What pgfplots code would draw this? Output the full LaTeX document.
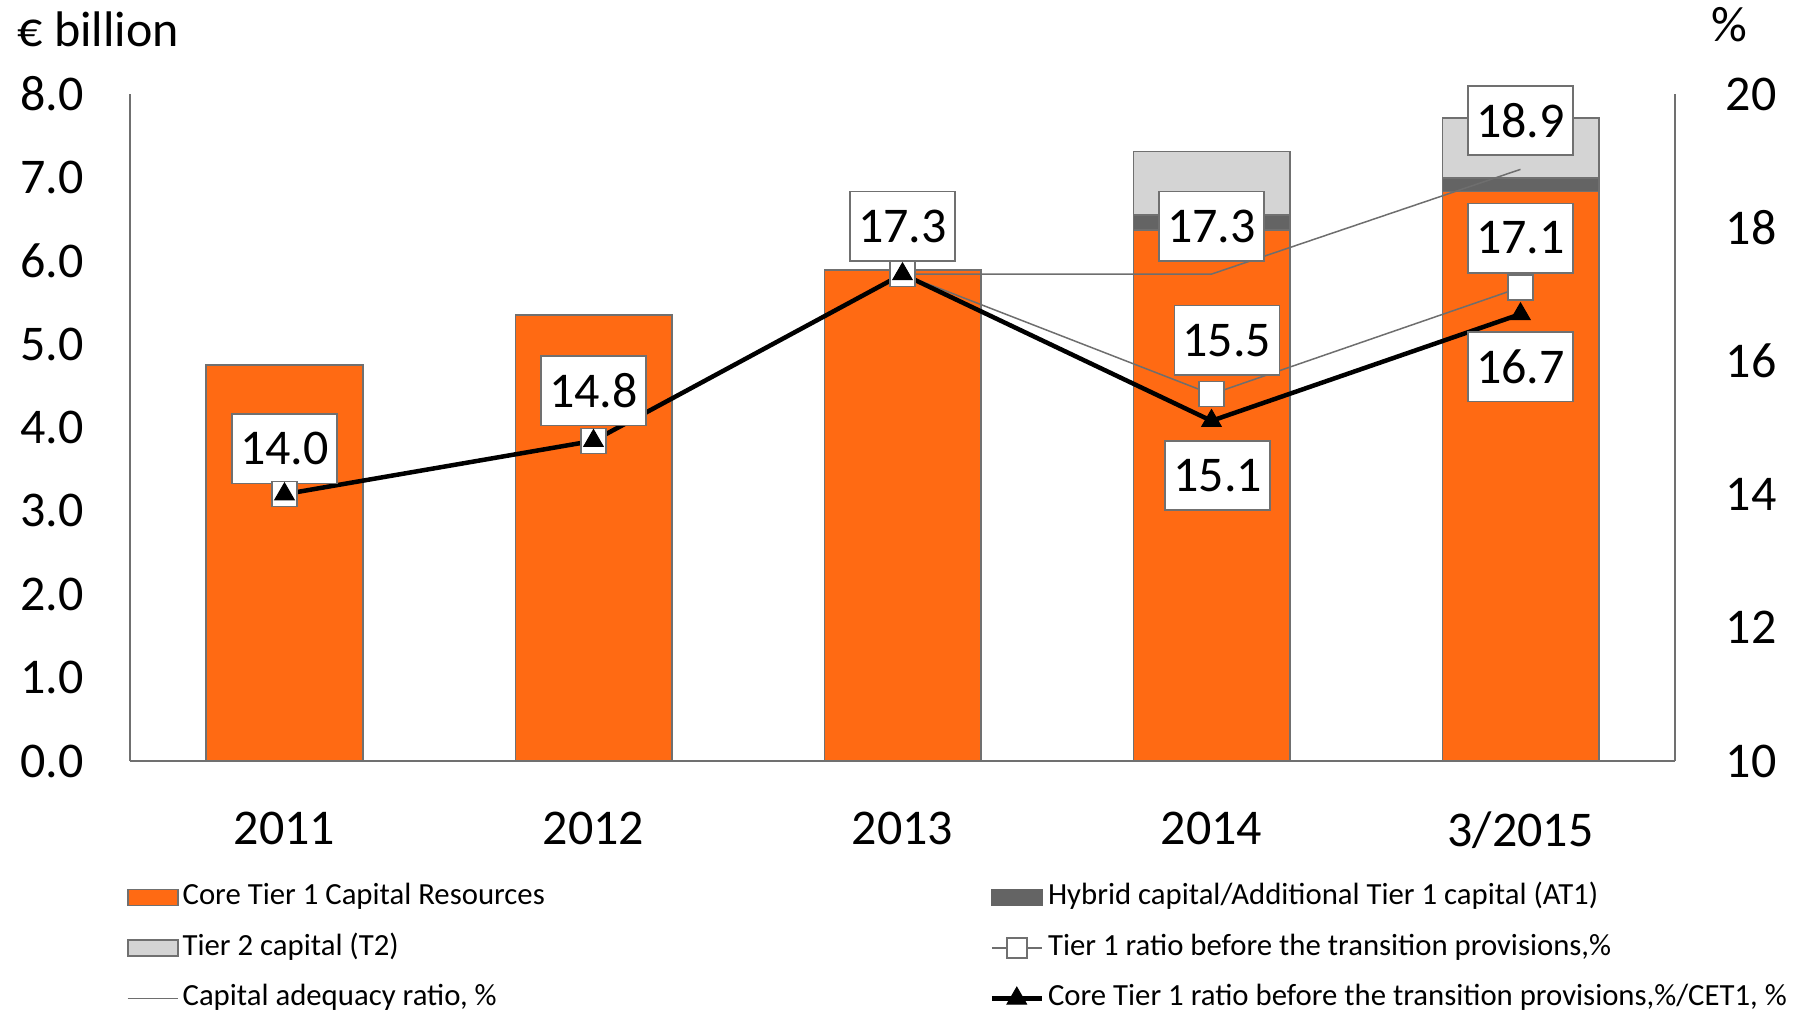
\documentclass[border=0pt]{standalone}
\usepackage{pgfplots}
\pgfplotsset{compat=1.18}
\usepackage{fontspec}
\setmainfont{Carlito}
\definecolor{cOrange}{RGB}{255,106,19}
\definecolor{cDark}{RGB}{100,100,100}
\definecolor{cLight}{RGB}{212,212,212}
\definecolor{cEdge}{RGB}{112,112,112}
\definecolor{cLine}{RGB}{110,110,110}
\pgfplotsset{
  my area legend/.style={legend image code/.code={\draw[##1] (0pt,-3.2pt) rectangle (20pt,3.2pt);}},
  my line legend/.style={legend image code/.code={\draw[mark repeat=2,mark phase=2,##1] plot coordinates {(0pt,0pt) (10pt,0pt) (20pt,0pt)};}},
}
\tikzset{lbl/.style={draw=cEdge, fill=white, line width=0.7pt, minimum width=42pt, minimum height=27.7pt, inner sep=0pt, font=\fontsize{20}{24}\selectfont}}
\begin{document}
\begin{tikzpicture}[x=1pt,y=1pt]
\useasboundingbox (0,0) rectangle (720.8,405.2);
\begin{axis}[
  at={(52pt,100.8pt)}, anchor=south west,
  scale only axis, width=618pt, height=266.8pt,
  xmin=-0.5, xmax=4.5, ymin=0, ymax=8,
  ybar stacked, bar width=62.5pt,
  axis x line*=bottom, axis y line*=left,
  axis line style={draw=cEdge, line width=0.8pt, -},
  xtick={0,1,2,3,4}, xticklabels={2011,2012,2013,2014,3/2015},
  ytick={0,1,...,8},
  major tick length=0pt,
  tick label style={font=\fontsize{20}{24}\selectfont},
  /pgf/number format/assume math mode=true,
  yticklabel style={/pgf/number format/fixed, /pgf/number format/fixed zerofill, /pgf/number format/precision=1, xshift=-15pt},
  xticklabel style={yshift=-16.7pt},
]
\addplot[fill=cOrange, draw=cEdge, line width=0.7pt] coordinates {(0,4.75) (1,5.35) (2,5.89) (3,6.37) (4,6.83)};
\addplot[fill=cDark, draw=cEdge, line width=0.7pt] coordinates {(0,0) (1,0) (2,0) (3,0.18) (4,0.16)};
\addplot[fill=cLight, draw=cEdge, line width=0.7pt] coordinates {(0,0) (1,0) (2,0) (3,0.76) (4,0.72)};
\end{axis}
\begin{axis}[
  at={(52pt,100.8pt)}, anchor=south west,
  scale only axis, width=618pt, height=266.8pt,
  xmin=-0.5, xmax=4.5, ymin=10, ymax=20,
  clip=false,
  axis x line=none, axis y line*=right,
  axis line style={draw=cEdge, line width=0.8pt, -},
  ytick={10,12,...,20},
  major tick length=0pt,
  tick label style={font=\fontsize{20}{24}\selectfont},
  /pgf/number format/assume math mode=true,
  yticklabel style={xshift=16.8pt},
  legend columns=2,
  legend cell align=left,
  legend style={at={(-0.0072,-0.1738)}, anchor=north west, draw=none, fill=none,
    font=\fontsize{12.3}{14}\selectfont,
    nodes={inner sep=0pt, text height=9pt, text depth=3pt},
    row sep=8.2pt,
    /tikz/every odd column/.append style={column sep=1.6pt},
    /tikz/every even column/.append style={column sep=177.9pt}},
]
\addlegendimage{my area legend, fill=cOrange, draw=cEdge, line width=0.7pt}
\addlegendentry{Core Tier 1 Capital Resources}
\addlegendimage{my area legend, fill=cDark, draw=cDark, line width=0.7pt}
\addlegendentry{Hybrid capital/Additional Tier 1 capital (AT1)}
\addlegendimage{my area legend, fill=cLight, draw=cEdge, line width=0.7pt}
\addlegendentry{Tier 2 capital (T2)}
\addlegendimage{my line legend, cLine, line width=0.6pt, mark=square*, mark size=4pt, mark options={fill=white, draw=cEdge}}
\addlegendentry{Tier 1 ratio before the transition provisions,\%}
\addlegendimage{my line legend, cLine, line width=0.6pt}
\addlegendentry{Capital adequacy ratio, \%}
\addlegendimage{my line legend, black, line width=1.8pt, mark=triangle*, mark size=4.5pt, mark options={line width=0.4pt}}
\addlegendentry{Core Tier 1 ratio before the transition provisions,\%/CET1, \%}

\addplot[forget plot, cLine, line width=0.6pt, no markers] coordinates {(2,17.3) (3,17.3) (4,18.87)};
\addplot[forget plot, cLine, line width=0.6pt, mark=square*, mark size=5pt, mark options={fill=white, draw=cEdge, line width=0.6pt}] coordinates {(0,14.0) (1,14.8) (2,17.3) (3,15.5) (4,17.1)};
\addplot[forget plot, black, line width=1.8pt, mark=triangle*, mark size=4.5pt, mark options={line width=0.4pt}] coordinates {(0,14.0) (1,14.8) (2,17.3) (3,15.1) (4,16.7)};

\node[lbl] at (axis cs:0,14.68) {14.0};
\node[lbl] at (axis cs:1,15.55) {14.8};
\node[lbl] at (axis cs:2,18.02) {17.3};
\node[lbl] at (axis cs:3,18.02) {17.3};
\node[lbl] at (axis cs:3.05,16.31) {15.5};
\node[lbl] at (axis cs:3.02,14.28) {15.1};
\node[lbl] at (axis cs:4,19.60) {18.9};
\node[lbl] at (axis cs:4,17.84) {17.1};
\node[lbl] at (axis cs:4,15.91) {16.7};
\end{axis}
\node[anchor=west, inner sep=0pt, font=\fontsize{20}{24}\selectfont] at (6.8,393.6) {€ billion};
\node[anchor=center, inner sep=0pt, font=\fontsize{20}{24}\selectfont] at (691.6,395.2) {\%};
\end{tikzpicture}
\end{document}
